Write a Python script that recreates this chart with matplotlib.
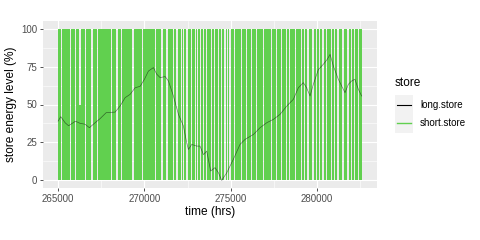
import matplotlib
matplotlib.use("Agg")
import matplotlib.pyplot as plt
from matplotlib.lines import Line2D
from matplotlib.patches import Rectangle
from matplotlib.ticker import MultipleLocator

# long-term store, level (%) against time (hrs)
long_t = [265000, 265150, 265400, 265600, 266000, 266270, 266560, 266810,
          267140, 267430, 267780, 268300, 268590, 268880, 269170, 269460,
          269750, 270000, 270230, 270520, 270710, 270910, 271200, 271390,
          271680, 271970, 272260, 272450, 272550, 272740, 273030, 273220,
          273420, 273610, 273840, 274090, 274290, 274480, 274770, 275150,
          275540, 275830, 276320, 276700, 277090, 277475, 277860, 278250,
          278630, 278920, 279210, 279400, 279600, 279790, 280080, 280370,
          280600, 280760, 280950, 281240, 281625, 281820, 282010, 282200,
          282400, 282590]
long_level = [39.1, 42.0, 38.0, 36.0, 39.0, 37.6, 37.0, 34.7,
              38.0, 40.7, 44.6, 45.0, 49.0, 54.5, 56.7, 61.0,
              62.0, 66.6, 72.0, 74.3, 70.0, 67.7, 68.4, 65.5,
              55.6, 43.5, 35.8, 24.8, 20.4, 23.7, 22.6, 22.6,
              17.0, 19.3, 6.2, 8.4, 5.0, 0.0, 5.0, 13.8,
              23.7, 27.0, 30.3, 34.7, 38.0, 40.2, 43.5, 49.0,
              53.4, 61.0, 64.4, 61.0, 55.6, 63.3, 73.0, 76.5,
              79.8, 83.0, 75.4, 66.6, 57.8, 63.3, 65.5, 66.6,
              60.0, 55.6]

# short-term store: cycles 0-100 % almost every day; only the quiet spells
# (where it stayed put or only partly cycled) are listed
short_first, short_last = 265000, 282600
quiet_from = [265190, 265675, 265965, 266230, 266545, 266900, 267270, 267700,
              268090, 268370, 268670, 268960, 269300, 269540, 269850, 270410,
              270590, 270980, 271270, 271470, 271660, 271850, 272100, 272240,
              272430, 272670, 272920, 273060, 273210, 273400, 273580, 273850,
              274060, 274240, 274440, 274630, 274790, 274920, 275170, 275410,
              275590, 275880, 276180, 276460, 276670, 276850, 277150, 277340,
              277600, 277920, 278200, 278390, 278595, 278720, 278880, 279070,
              279270, 279450, 279740, 279940, 280140, 280320, 280510, 280800,
              281010, 281190, 281480, 281770, 281980, 282160, 282350]
quiet_to = [265230, 265715, 266005, 266320, 266585, 267040, 267330, 267740,
            268130, 268440, 268710, 269000, 269370, 269580, 269920, 270450,
            270660, 271050, 271340, 271510, 271700, 271920, 272170, 272280,
            272500, 272740, 272960, 273130, 273250, 273440, 273650, 273920,
            274100, 274310, 274480, 274700, 274830, 274990, 275240, 275450,
            275660, 275950, 276220, 276530, 276710, 276920, 277190, 277380,
            277710, 277960, 278270, 278460, 278635, 278790, 278920, 279140,
            279310, 279520, 279810, 280010, 280180, 280390, 280580, 280870,
            281050, 281260, 281550, 281840, 282020, 282230, 282420]
quiet_lo = [0] * 71
quiet_hi = [0, 0, 0, 50] + [0] * 67

names = ["long.store", "short.store"]
colours = ["black", "#61D04F"]


def main():
    plt.rcParams["font.family"] = ["Liberation Sans", "DejaVu Sans"]
    fig = plt.figure(figsize=(4.8, 2.4), dpi=100)
    ax = fig.add_axes([43 / 480, 1 - 188 / 240, 334 / 480, 167 / 240])
    ax.set_facecolor("#EBEBEB")
    for s in ax.spines.values():
        s.set_visible(False)

    # step outline of the short store's daily swing
    xs, lo, hi = [short_first], [0], [100]
    for a, b, l, h in zip(quiet_from, quiet_to, quiet_lo, quiet_hi):
        xs += [a, b]
        lo += [l, 0]
        hi += [h, 100]
    xs.append(short_last)
    lo.append(lo[-1])
    hi.append(hi[-1])

    ax.fill_between(xs, lo, hi, step="post", color=colours[1], lw=0,
                    zorder=3)
    # mostly hidden under the green in the original, so keep it faint
    ax.plot(long_t, long_level, color=colours[0], lw=0.5, alpha=0.5,
            zorder=4)

    ax.set_xlim(264120, 283480)
    ax.set_ylim(-5, 105)
    ax.xaxis.set_major_locator(MultipleLocator(5000))
    ax.xaxis.set_minor_locator(MultipleLocator(2500))
    ax.yaxis.set_major_locator(MultipleLocator(25))
    ax.yaxis.set_minor_locator(MultipleLocator(12.5))
    ax.set_axisbelow(True)
    ax.grid(which="major", color="white", lw=0.8)
    ax.grid(which="minor", color="white", lw=0.4)
    ax.tick_params(which="major", length=2.5, width=0.6, color="#333333",
                   labelsize=7, labelcolor="#4D4D4D", pad=1.5)
    ax.tick_params(which="minor", length=0)
    ax.set_xlabel("time (hrs)", fontsize=8.6, labelpad=2)
    ax.set_ylabel("store energy level (%)", fontsize=8.6, labelpad=3)

    # legend drawn ggplot-style
    fig.text(395 / 480, 1 - 83 / 240, "store", fontsize=8.6, va="center")
    for i, (name, col) in enumerate(zip(names, colours)):
        y = 95 + i * 19
        fig.patches.append(Rectangle((395 / 480, 1 - (y + 19) / 240),
                                     18 / 480, 19 / 240, color="#F2F2F2",
                                     transform=fig.transFigure, lw=0))
        fig.lines.append(Line2D([397 / 480, 411 / 480],
                                [1 - (y + 9.5) / 240] * 2, color=col,
                                lw=0.8 if i == 0 else 1.0,
                                transform=fig.transFigure))
        fig.text(420 / 480, 1 - (y + 9.5) / 240, name, fontsize=7,
                 va="center")

    fig.savefig("out.png", dpi=100)


if __name__ == "__main__":
    main()
